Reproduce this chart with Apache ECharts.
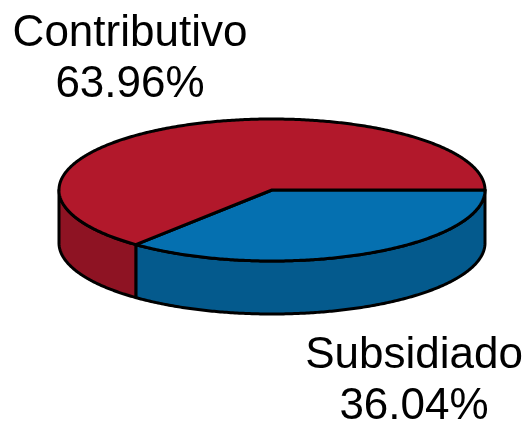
<!DOCTYPE html>
<html>
<head>
<meta charset="utf-8">
<script src="https://cdn.jsdelivr.net/npm/echarts@6/dist/echarts.min.js"></script>
<style>
  html, body { margin: 0; padding: 0; background: #fff; }
  #chart { width: 524px; height: 421px; }
</style>
</head>
<body>
<div id="chart"></div>
<script>
var categories = ['Subsidiado', 'Contributivo'];
var shares = [36.04, 63.96];
var topColors = ['#0570b0', '#b2182b'];
var sideColors = ['#045a8d', '#8e1323'];

var cx = 272, cy = 190, rx = 213, ry = 71, depth = 53;

function edge(a, drop) {
  return [cx + rx * Math.cos(a), cy + ry * Math.sin(a) + (drop || 0)];
}

function arcPoints(a0, a1, drop) {
  var pts = [], n = Math.max(2, Math.ceil(Math.abs(a1 - a0) / 0.01));
  for (var i = 0; i <= n; i++) {
    pts.push(edge(a0 + (a1 - a0) * i / n, drop));
  }
  return pts;
}

// slices run clockwise from the right hand edge of the ellipse
var total = shares.reduce(function (s, v) { return s + v; }, 0);
var slices = [], start = 0;
shares.forEach(function (v, i) {
  var end = start + v / total * Math.PI * 2;
  slices.push({ a0: start, a1: end, index: i });
  start = end;
});

function renderSlice(params, api) {
  var s = slices[params.dataIndex];
  var stroke = { stroke: '#000', lineWidth: 3, lineJoin: 'round' };
  var children = [];
  // only the front half of the wall can be seen
  var w0 = Math.max(s.a0, 0), w1 = Math.min(s.a1, Math.PI);
  if (w1 > w0) {
    var wall = arcPoints(w0, w1, 0).concat(arcPoints(w1, w0, depth));
    children.push({
      type: 'polygon',
      shape: { points: wall },
      style: Object.assign({ fill: sideColors[s.index] }, stroke)
    });
  }
  var top = [[cx, cy]].concat(arcPoints(s.a0, s.a1, 0));
  children.push({
    type: 'polygon',
    shape: { points: top },
    style: Object.assign({ fill: topColors[s.index] }, stroke)
  });
  return { type: 'group', children: children };
}

var chart = echarts.init(document.getElementById('chart'), null, { renderer: 'canvas' });
var textStyle = {
  fontFamily: 'Arial, Liberation Sans, sans-serif',
  fontSize: 44,
  lineHeight: 51,
  fill: '#000',
  align: 'center'
};

chart.setOption({
  animation: false,
  backgroundColor: '#fff',
  graphic: [
    {
      type: 'text', x: 130, y: 8,
      style: Object.assign({ text: categories[1] + '\n' + shares[1].toFixed(2) + '%' }, textStyle)
    },
    {
      type: 'text', x: 414, y: 330,
      style: Object.assign({ text: categories[0] + '\n' + shares[0].toFixed(2) + '%' }, textStyle)
    }
  ],
  series: [{
    type: 'custom',
    coordinateSystem: 'none',
    renderItem: renderSlice,
    data: shares
  }]
});
</script>
</body>
</html>
